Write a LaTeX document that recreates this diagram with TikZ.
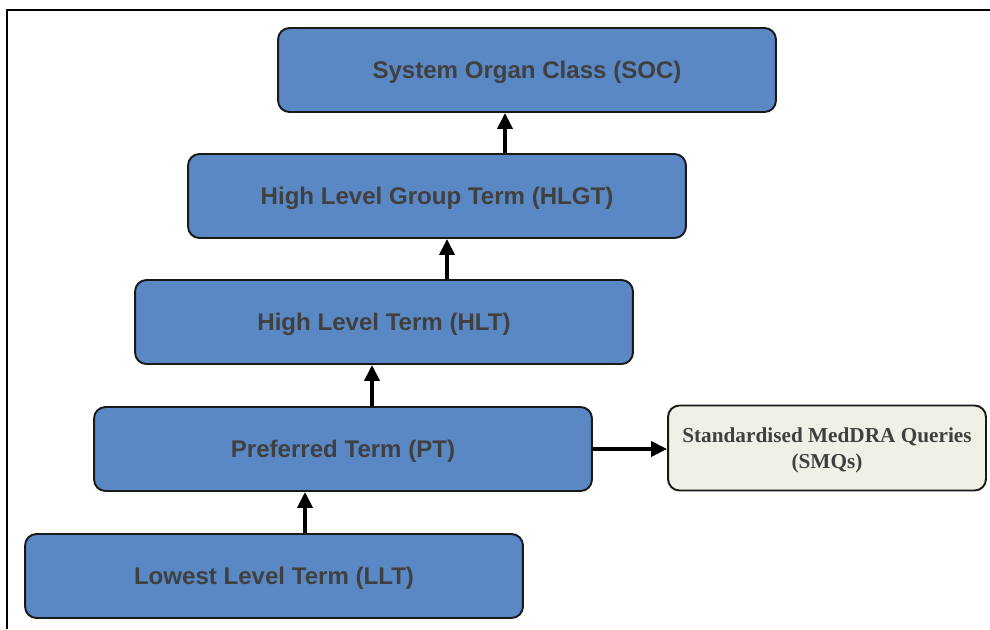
\documentclass[tikz,border=0pt]{standalone}
\usepackage{fontspec}
\newfontfamily\arialfont{Liberation Sans}
\newfontfamily\timesfont{Liberation Serif}
\usetikzlibrary{arrows.meta,positioning}
\definecolor{termblue}{HTML}{5A88C4}
\definecolor{queryfill}{HTML}{F1F0E7}
\definecolor{termtext}{HTML}{404040}
\tikzset{
  >={Triangle[length=3.2mm,width=3mm]},
  term/.style ={draw=black!90, line width=1.1pt, rounded corners=6.5pt, fill=termblue,
                minimum width=9.96cm, minimum height=1.68cm, inner sep=0pt, text depth=0pt,
                text=termtext, font=\arialfont\bfseries\fontsize{13.7}{16}\selectfont},
  query/.style={term, fill=queryfill, minimum width=6.36cm, minimum height=1.70cm,
                align=center, text depth=-3.8pt, font=\timesfont\bfseries\fontsize{12.1}{14.7}\selectfont},
  link/.style ={->, line width=2.1pt, black}
}

\begin{document}
\begin{tikzpicture}[x=0.02cm, y=-0.02cm]
\useasboundingbox (0,0) rectangle (990,629);
% frame
\draw[line width=1.4pt] (7,629) -- (7,10) -- (990,10);

% hierarchy
\node[term] (soc)  at (527,70)  {System Organ Class (SOC)};
\node[term] (hlgt) at (437,196) {High Level Group Term (HLGT)};
\node[term] (hlt)  at (384,322) {High Level Term (HLT)};
\node[term] (pt)   at (343,449) {Preferred Term (PT)};
\node[term] (llt)  at (274,576) {Lowest Level Term (LLT)};
\node[query] (smq) at (827,448) {Standardised MedDRA Queries\\(SMQs)};

% arrows
\draw[link] (llt.north -| 305,0) -- (pt.south -| 305,0);
\draw[link] (pt.north -| 372,0) -- (hlt.south -| 372,0);
\draw[link] (hlt.north -| 447,0) -- (hlgt.south -| 447,0);
\draw[link] (hlgt.north -| 505,0) -- (soc.south -| 505,0);
\draw[link] (pt.east) -- (pt.east -| smq.west);
\end{tikzpicture}
\end{document}
